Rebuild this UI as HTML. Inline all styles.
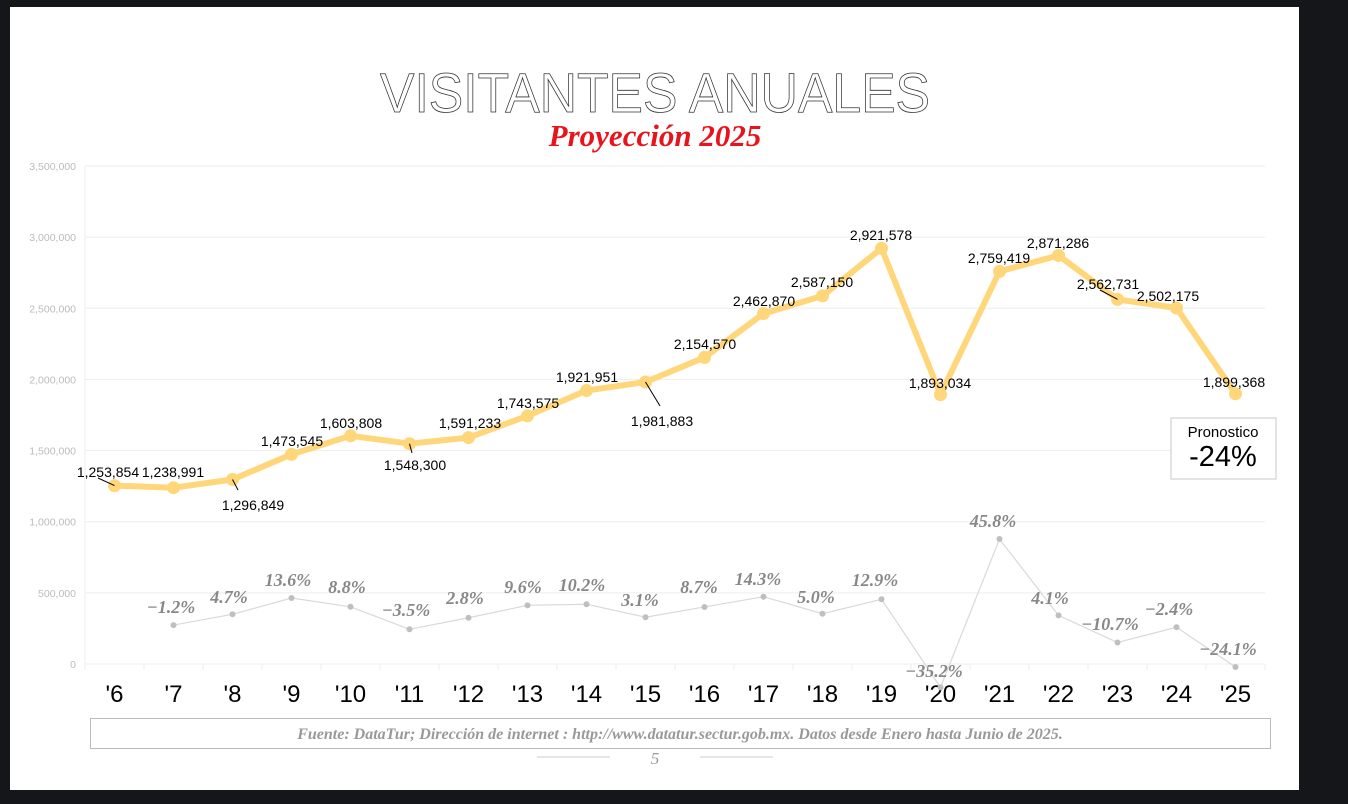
<!DOCTYPE html>
<html><head><meta charset="utf-8"><style>
body{margin:0;width:1348px;height:804px;background:#15161a;overflow:hidden;font-family:"Liberation Sans",sans-serif}
#slide{position:absolute;left:10px;top:7px;width:1289px;height:783px;background:#fff}
svg{position:absolute;left:0;top:0}
</style></head><body>
<div id="slide"></div>
<svg id="s" width="1348" height="804" xmlns="http://www.w3.org/2000/svg"></svg>
<script>
const NS="http://www.w3.org/2000/svg",s=document.getElementById('s');
function el(t,a,txt){const e=document.createElementNS(NS,t);for(const k in a)e.setAttribute(k,a[k]);if(txt!==undefined)e.textContent=txt;s.appendChild(e);return e;}
// title
el('text',{x:380,y:112,'font-size':56,textLength:550,lengthAdjust:'spacingAndGlyphs','font-family':'Liberation Sans,sans-serif',fill:'none',stroke:'#333','stroke-width':0.8},'VISITANTES ANUALES');
el('text',{x:655,y:146,'text-anchor':'middle','font-size':31,'font-style':'italic','font-weight':'bold','font-family':'Liberation Serif,serif',fill:'#e8141c'},'Proyección 2025');
// grid
const Y=v=>664-v/3.5e6*498;
for(let i=0;i<=7;i++){const y=Y(i*5e5);el('line',{x1:85,x2:1265,y1:y,y2:y,stroke:'#eee','stroke-width':1});
el('text',{x:76,y:y+4,'text-anchor':'end','font-size':10.5,fill:'#bbb'},(i*5e5).toLocaleString('en-US'));}
el('line',{x1:85,x2:85,y1:166,y2:664,stroke:'#eee'});
for(let i=0;i<=20;i++){const x=85+59*i;el('line',{x1:x,x2:x,y1:664,y2:670,stroke:'#eee'});}
const yrs=["'6","'7","'8","'9","'10","'11","'12","'13","'14","'15","'16","'17","'18","'19","'20","'21","'22","'23","'24","'25"];
const X=i=>114.5+59*i;
yrs.forEach((t,i)=>el('text',{x:X(i),y:702,'text-anchor':'middle','font-size':24,fill:'#000'},t));
// growth
const g=[null,-1.2,4.7,13.6,8.8,-3.5,2.8,9.6,10.2,3.1,8.7,14.3,5.0,12.9,-35.2,45.8,4.1,-10.7,-2.4,-24.1];
const GY=v=>622.9-v*1.831;
let gp=[];g.forEach((v,i)=>{if(v!==null)gp.push(X(i)+','+GY(v));});
el('polyline',{points:gp.join(' '),fill:'none',stroke:'#d9d9d9','stroke-width':1.2});
g.forEach((v,i)=>{if(v!==null)el('circle',{cx:X(i),cy:GY(v),r:3,fill:'#bfbfbf'});});
const gl=[null,[171,607],[229,597],[288,580],[347,587],[406,610],[465,598],[523,587],[582,585],[640,600],[699,587],[758,579],[816,597],[875,580],[934,671],[993,521],[1050,598],[1110,624],[1169,609],[1228,649]];
g.forEach((v,i)=>{if(v!==null){const t=(v<0?'−'+(-v).toFixed(1):v.toFixed(1))+'%';
el('text',{x:gl[i][0],y:gl[i][1]+6,'text-anchor':'middle','font-size':18,'font-style':'italic','font-weight':'bold','font-family':'Liberation Serif,serif',fill:'#888'},t);}});
// main
const d=[1253854,1238991,1296849,1473545,1603808,1548300,1591233,1743575,1921951,1981883,2154570,2462870,2587150,2921578,1893034,2759419,2871286,2562731,2502175,1899368];
el('polyline',{points:d.map((v,i)=>X(i)+','+Y(v)).join(' '),fill:'none',stroke:'#ffd67a','stroke-width':6,'stroke-linejoin':'round'});
d.forEach((v,i)=>el('circle',{cx:X(i),cy:Y(v),r:6.5,fill:'#ffd67a'}));
const lp=[[108,472],[173,472],[253,505],[292,441],[351,423],[415,465],[470,423],[528,403],[587,377],[662,421],[705,344],[764,301],[822,282],[881,235],[940,383],[999,258],[1058,243],[1108,284],[1168,296],[1234,382]];
[[0,[98,478]],[2,[238,490]],[5,[412,453]],[9,[660,406]],[17,[1100,290]]].forEach(([i,p])=>el('line',{x1:p[0],y1:p[1],x2:X(i),y2:Y(d[i]),stroke:'#000','stroke-width':1}));
d.forEach((v,i)=>el('text',{x:lp[i][0],y:lp[i][1]+5,'text-anchor':'middle','font-size':14,fill:'#000'},v.toLocaleString('en-US')));
// pronostico
el('rect',{x:1171,y:418,width:105,height:61,fill:'#fff',stroke:'#c8c8c8'});
el('text',{x:1223,y:437,'text-anchor':'middle','font-size':15,fill:'#000'},'Pronostico');
el('text',{x:1223,y:466,'text-anchor':'middle','font-size':29,fill:'#000'},'-24%');
// footer
el('rect',{x:90.5,y:718.5,width:1180,height:30,fill:'#fff',stroke:'#bbb'});
el('text',{x:680,y:739,'text-anchor':'middle','font-size':16,'font-style':'italic','font-weight':'bold','font-family':'Liberation Serif,serif',fill:'#999'},'Fuente: DataTur; Dirección de internet : http://www.datatur.sectur.gob.mx. Datos desde Enero hasta Junio de 2025.');
el('line',{x1:537,x2:610,y1:757,y2:757,stroke:'#ccc'});el('line',{x1:700,x2:773,y1:757,y2:757,stroke:'#ccc'});
el('text',{x:655,y:764,'text-anchor':'middle','font-size':17,'font-style':'italic','font-family':'Liberation Serif,serif',fill:'#999'},'5');
</script>
</body></html>
